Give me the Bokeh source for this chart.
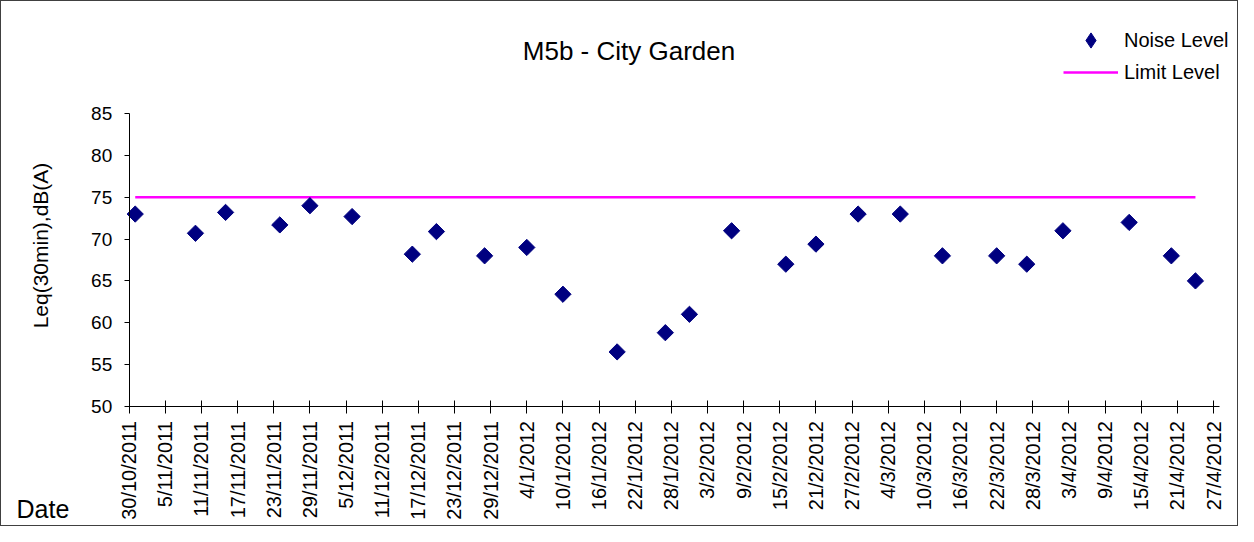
from math import pi
from datetime import datetime, timedelta

from bokeh.plotting import figure
from bokeh.models import (Range1d, FixedTicker, CustomJSTickFormatter, Legend,
                          LegendItem, Label, ColumnDataSource)
from bokeh.embed import file_html
from bokeh.resources import INLINE

# ---------------- data ----------------
title_text = "M5b - City Garden"
y_label_text = "Leq(30min),dB(A)"
x_label_text = "Date"
series_names = ["Noise Level", "Limit Level"]

dates = ["31/10/2011", "10/11/2011", "15/11/2011", "24/11/2011", "29/11/2011",
         "6/12/2011", "16/12/2011", "20/12/2011", "28/12/2011", "4/1/2012",
         "10/1/2012", "19/1/2012", "27/1/2012", "31/1/2012", "7/2/2012",
         "16/2/2012", "21/2/2012", "28/2/2012", "6/3/2012", "13/3/2012",
         "22/3/2012", "27/3/2012", "2/4/2012", "13/4/2012", "20/4/2012",
         "24/4/2012"]
noise_level = [73.0, 70.7, 73.2, 71.7, 74.0,
               72.7, 68.2, 70.9, 68.0, 69.0,
               63.4, 56.5, 58.8, 61.0, 71.0,
               67.0, 69.4, 73.0, 73.0, 68.0,
               68.0, 67.0, 71.0, 72.0, 68.0,
               65.0]
limit_level = 75

tick_labels = ["30/10/2011", "5/11/2011", "11/11/2011", "17/11/2011", "23/11/2011",
               "29/11/2011", "5/12/2011", "11/12/2011", "17/12/2011", "23/12/2011",
               "29/12/2011", "4/1/2012", "10/1/2012", "16/1/2012", "22/1/2012",
               "28/1/2012", "3/2/2012", "9/2/2012", "15/2/2012", "21/2/2012",
               "27/2/2012", "4/3/2012", "10/3/2012", "16/3/2012", "22/3/2012",
               "28/3/2012", "3/4/2012", "9/4/2012", "15/4/2012", "21/4/2012",
               "27/4/2012"]
y_ticks = [50, 55, 60, 65, 70, 75, 80, 85]
y_min, y_max = 50, 85

# ---------------- helpers ----------------
EPOCH = datetime(1970, 1, 1)


def parse(s):
    return datetime.strptime(s, "%d/%m/%Y")


def to_ms(d):
    return (d - EPOCH).total_seconds() * 1000.0


date_dt = [parse(s) for s in dates]
tick_dt = [parse(s) for s in tick_labels]

FONT = "Liberation Sans"

# ---------------- layout (pixels) ----------------
W, H = 1238, 526
OFF = 1.0               # css border shifts the canvas by 1px
AX_LEFT_PX = 128.7 - OFF   # x pixel of first tick
PX_PER_DAY = 6.024
AX_BOTTOM_PX = 405.7 - OFF  # y pixel (from top) of y_min
PX_PER_UNIT = 8.354
AX_RIGHT_PX = 1219.0 - OFF  # end of x axis line


def sy(py):
    """pixel-from-top -> screen y (frame relative, up)"""
    return H - (py - OFF)


def sx(px):
    return px - OFF


t0 = tick_dt[0]
x_start = t0 - timedelta(days=AX_LEFT_PX / PX_PER_DAY)
x_end = t0 + timedelta(days=(W - AX_LEFT_PX) / PX_PER_DAY)
y_start = y_min - (H - AX_BOTTOM_PX) / PX_PER_UNIT
y_end = y_min + AX_BOTTOM_PX / PX_PER_UNIT
x_axis_end = t0 + timedelta(days=(AX_RIGHT_PX - AX_LEFT_PX) / PX_PER_DAY)

# ---------------- figure ----------------
p = figure(width=W, height=H, output_backend="svg", toolbar_location=None,
           x_axis_type="datetime",
           x_range=Range1d(start=x_start, end=x_end),
           y_range=Range1d(y_start, y_end),
           min_border_left=0, min_border_right=0,
           min_border_top=0, min_border_bottom=0)
p.background_fill_color = "white"
p.border_fill_color = "white"
p.outline_line_color = None
p.xgrid.visible = False
p.ygrid.visible = False
p.styles = {"border": "1px solid #404040"}

src = ColumnDataSource(data=dict(date=date_dt, noise=noise_level))

limit_r = p.line(x=[date_dt[0], date_dt[-1]], y=[limit_level, limit_level],
                 line_color="#FF00FF", line_width=2.5)
noise_r = p.scatter(x="date", y="noise", source=src, marker="square", angle=pi / 4,
                    size=11.5, fill_color="#000080", line_color="#000080")
# legend key for the noise series (diamond shape, not drawn in the plot)
noise_key = p.scatter(x="date", y="noise", source=src, marker="diamond",
                      size=11.5, fill_color="#000080", line_color="#000080",
                      visible=False)

# x axis (drawn at y = y_min inside the frame)
xa = p.xaxis[0]
xa.fixed_location = y_min
xa.bounds = (to_ms(t0), to_ms(x_axis_end))
xa.ticker = FixedTicker(ticks=[to_ms(d) for d in tick_dt])
xa.formatter = CustomJSTickFormatter(code="""
const d = new Date(tick);
return d.getUTCDate() + '/' + (d.getUTCMonth() + 1) + '/' + d.getUTCFullYear();
""")
xa.major_label_orientation = pi / 2
xa.major_label_text_font = FONT
xa.major_label_text_font_size = "20px"
xa.major_label_text_color = "black"
xa.major_label_standoff = 8
xa.major_tick_in = 6
xa.major_tick_out = 7
xa.minor_tick_in = 0
xa.minor_tick_out = 0
xa.axis_line_color = "black"
xa.major_tick_line_color = "black"

# y axis (drawn at x = first date inside the frame)
ya = p.yaxis[0]
ya.fixed_location = to_ms(t0)
ya.bounds = (y_min, y_max)
ya.ticker = FixedTicker(ticks=y_ticks)
ya.major_label_text_font = FONT
ya.major_label_text_font_size = "19px"
ya.major_label_text_color = "black"
ya.major_label_standoff = 12
ya.major_tick_in = 0
ya.major_tick_out = 5
ya.minor_tick_in = 0
ya.minor_tick_out = 0
ya.axis_line_color = "black"
ya.major_tick_line_color = "black"

# title, axis labels (screen units relative to the frame, y up)
p.add_layout(Label(x=sx(628.5), y=sy(50.5), x_units="screen", y_units="screen",
                   text=title_text, text_align="center", text_baseline="middle",
                   text_font=FONT, text_font_size="26px", text_color="black"))
p.add_layout(Label(x=sx(40), y=sy(245), x_units="screen", y_units="screen",
                   text=y_label_text, angle=pi / 2, text_align="center",
                   text_baseline="middle", text_font=FONT,
                   text_font_size="21px", text_color="black"))
p.add_layout(Label(x=sx(16), y=sy(508), x_units="screen", y_units="screen",
                   text=x_label_text, text_align="left", text_baseline="middle",
                   text_font=FONT, text_font_size="25px", text_color="black"))

common = dict(padding=0, margin=0, spacing=0, glyph_width=55, label_standoff=6,
              label_text_font=FONT, label_text_font_size="20px",
              label_text_color="black", border_line_color=None,
              background_fill_alpha=0, inactive_fill_alpha=0)
legend_noise = Legend(items=[LegendItem(label=series_names[0], renderers=[noise_key])],
                      location=(sx(1063), sy(59)), glyph_height=38, label_height=20,
                      **common)
legend_limit = Legend(items=[LegendItem(label=series_names[1], renderers=[limit_r])],
                      location=(sx(1063), sy(83.5)), glyph_height=20, label_height=20,
                      **common)
p.add_layout(legend_noise, "center")
p.add_layout(legend_limit, "center")

open("out.html", "w").write(file_html(p, INLINE))
